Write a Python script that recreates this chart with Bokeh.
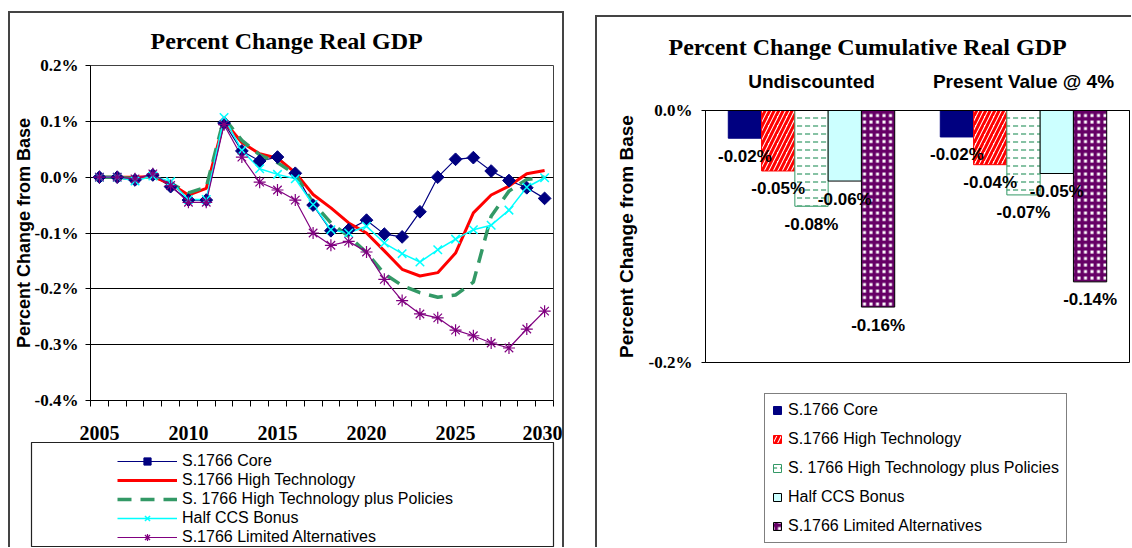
from bokeh.plotting import figure
from bokeh.models import (Range1d, FixedTicker, PrintfTickFormatter, Legend, LegendItem,
                          ColumnDataSource, FactorRange, Title, Spacer)
from bokeh.transform import dodge
from bokeh.layouts import row, column
from bokeh.embed import file_html
from bokeh.resources import INLINE
from bokeh.core.properties import value

# ---------------- data: left chart (percent change real GDP) ----------------
years = list(range(2005, 2031))
label_years = [2005, 2010, 2015, 2020, 2025, 2030]
y_ticks_left = [-0.4, -0.3, -0.2, -0.1, 0.0, 0.1, 0.2]

core = [0.0, 0.0, -0.005, 0.004, -0.017, -0.041, -0.041, 0.097, 0.047, 0.029, 0.036, 0.007,
        -0.050, -0.096, -0.094, -0.077, -0.102, -0.107, -0.062, 0.000, 0.032, 0.035, 0.011,
        -0.006, -0.019, -0.038]
high_tech = [0.0, 0.0, 0.0, 0.001, -0.012, -0.032, -0.020, 0.100, 0.062, 0.042, 0.034, 0.008,
             -0.031, -0.055, -0.082, -0.100, -0.132, -0.165, -0.177, -0.171, -0.136, -0.064,
             -0.032, -0.016, 0.006, 0.012]
policies = [0.0, 0.0, -0.003, 0.002, -0.011, -0.028, -0.018, 0.106, 0.066, 0.040, 0.026, 0.005,
            -0.046, -0.082, -0.106, -0.135, -0.173, -0.194, -0.207, -0.215, -0.211, -0.188,
            -0.070, -0.025, -0.004, 0.000]
half_ccs = [0.0, 0.0, -0.007, 0.002, -0.008, -0.040, -0.040, 0.107, 0.048, 0.015, 0.005, -0.003,
            -0.049, -0.094, -0.100, -0.088, -0.118, -0.137, -0.152, -0.130, -0.111, -0.094,
            -0.086, -0.059, -0.018, -0.001]
limited = [0.0, 0.0, -0.003, 0.006, -0.015, -0.045, -0.045, 0.094, 0.036, -0.009, -0.023, -0.041,
           -0.100, -0.122, -0.115, -0.134, -0.183, -0.221, -0.245, -0.252, -0.274, -0.284,
           -0.297, -0.306, -0.272, -0.240]

series_names = ["S.1766 Core", "S.1766 High Technology", "S. 1766 High Technology plus Policies",
                "Half CCS Bonus", "S.1766 Limited Alternatives"]

# ---------------- data: right chart (cumulative) ----------------
bar_groups = ["Undiscounted", "Present Value @ 4%"]
bar_core = [-0.022, -0.021]
bar_high = [-0.048, -0.043]
bar_pol = [-0.076, -0.067]
bar_ccs = [-0.056, -0.050]
bar_lim = [-0.156, -0.136]
y_ticks_right = [-0.2, 0.0]

SERIF = "Liberation Serif"
SANS = "Liberation Sans"
BORDER = "2px solid #444444"

# ======================= LEFT CHART =======================
p1 = figure(width=552, height=429, output_backend="svg", toolbar_location=None,
            x_range=Range1d(2004.5, 2030.5), y_range=Range1d(-0.4, 0.2),
            min_border_left=77, min_border_right=9, min_border_top=52, min_border_bottom=42)
p1.frame_align = False
p1.title = Title(text="Percent Change Real GDP", align="left", offset=60, standoff=23,
                 text_font=SERIF, text_font_style="bold", text_font_size="24px",
                 text_color="black")
p1.background_fill_color = "white"
p1.border_fill_color = "white"
p1.outline_line_color = "#404040"
p1.xgrid.visible = False
p1.ygrid.ticker = FixedTicker(ticks=y_ticks_left)
p1.ygrid.grid_line_color = "black"
p1.ygrid.grid_line_width = 1

xa = p1.xaxis[0]
xa.ticker = FixedTicker(ticks=label_years, minor_ticks=[y - 0.5 for y in years] + [years[-1] + 0.5])
xa.major_tick_out = 0
xa.major_tick_in = 0
xa.minor_tick_out = 6
xa.minor_tick_in = 0
xa.minor_tick_line_color = "black"
xa.axis_line_color = "black"
xa.major_label_text_font = SERIF
xa.major_label_text_font_style = "bold"
xa.major_label_text_font_size = "20px"
xa.major_label_text_color = "black"
xa.major_label_standoff = 19

ya = p1.yaxis[0]
ya.ticker = FixedTicker(ticks=y_ticks_left)
ya.formatter = PrintfTickFormatter(format="%.1f%%")
ya.major_tick_out = 5
ya.major_tick_in = 0
ya.minor_tick_out = 0
ya.minor_tick_in = 0
ya.major_tick_line_color = "black"
ya.axis_line_color = "black"
ya.major_label_text_font = SERIF
ya.major_label_text_font_style = "bold"
ya.major_label_text_font_size = "17px"
ya.major_label_text_color = "black"
ya.major_label_standoff = 7
ya.axis_label = "Percent Change from Base"
ya.axis_label_text_font = SANS
ya.axis_label_text_font_style = "bold"
ya.axis_label_text_font_size = "18px"
ya.axis_label_text_color = "black"
ya.axis_label_standoff = -2

src1 = ColumnDataSource(dict(year=years, core=core, high=high_tech, pol=policies,
                             ccs=half_ccs, lim=limited))

line_styles = [
    ("core", dict(line_color="#000080", line_width=1.2)),
    ("high", dict(line_color="#FF0000", line_width=3)),
    ("pol", dict(line_color="#339966", line_width=3.5, line_dash="14 9")),
    ("ccs", dict(line_color="#00FFFF", line_width=1.5)),
    ("lim", dict(line_color="#800080", line_width=1.2)),
]
marker_styles = {
    "core": dict(marker="square", angle=0.785398, size=9, fill_color="#000080",
                 line_color="#000080"),
    "ccs": dict(marker="x", size=12, line_color="#00FFFF", line_width=1.5),
    "lim": dict(marker="asterisk", size=12, line_color="#800080", line_width=1.2),
}


def draw_series(fig):
    lines = {}
    marks = {}
    for key, st in line_styles:
        lines[key] = fig.line("year", key, source=src1, **st)
    for key, st in marker_styles.items():
        marks[key] = fig.scatter("year", key, source=src1, **st)
    return lines, marks


draw_series(p1)

# legend panel (small figure whose frame is the legend box; its series lie outside its range)
p1_leg = figure(width=552, height=105, output_backend="svg", toolbar_location=None,
                x_range=p1.x_range, y_range=Range1d(5, 6),
                x_axis_location=None, y_axis_location=None,
                min_border_left=21, min_border_right=9, min_border_top=0, min_border_bottom=0)
p1_leg.frame_align = False
p1_leg.grid.visible = False
p1_leg.background_fill_color = "white"
p1_leg.border_fill_color = "white"
p1_leg.outline_line_color = "#222222"
p1_leg.outline_line_width = 1.2
lg_lines, lg_marks = draw_series(p1_leg)

leg1 = Legend(items=[
    LegendItem(label=series_names[0], renderers=[lg_lines["core"], lg_marks["core"]]),
    LegendItem(label=series_names[1], renderers=[lg_lines["high"]]),
    LegendItem(label=series_names[2], renderers=[lg_lines["pol"]]),
    LegendItem(label=series_names[3], renderers=[lg_lines["ccs"], lg_marks["ccs"]]),
    LegendItem(label=series_names[4], renderers=[lg_lines["lim"], lg_marks["lim"]]),
], location=(86, 1))
leg1.label_text_font = SANS
leg1.label_text_font_size = "16px"
leg1.label_text_color = "black"
leg1.glyph_width = 60
leg1.glyph_height = 18
leg1.label_height = 18
leg1.spacing = 1
leg1.padding = 0
leg1.margin = 0
leg1.label_standoff = 5
leg1.border_line_alpha = 0
leg1.background_fill_alpha = 0
p1_leg.add_layout(leg1)

left_chart = column(p1, p1_leg, spacing=0,
                    styles={"border-top": BORDER, "border-left": BORDER, "border-right": BORDER,
                            "margin-top": "11px", "margin-left": "8px"})

# ======================= RIGHT CHART =======================
p2 = figure(width=534, height=375, output_backend="svg", toolbar_location=None,
            x_range=FactorRange(*bar_groups), y_range=Range1d(-0.2, 0.0),
            x_axis_location="above",
            min_border_left=108, min_border_right=2, min_border_top=93, min_border_bottom=30)
p2.frame_align = False
p2.title = Title(text="Percent Change Cumulative Real GDP", align="left", offset=-37,
                 standoff=16, text_font=SERIF, text_font_style="bold", text_font_size="24px",
                 text_color="black")
p2.background_fill_color = "white"
p2.border_fill_color = "white"
p2.outline_line_color = "black"
p2.xgrid.visible = False
p2.ygrid.visible = False

xa2 = p2.xaxis[0]
xa2.major_tick_out = 0
xa2.major_tick_in = 0
xa2.axis_line_color = "black"
xa2.major_label_text_font = SANS
xa2.major_label_text_font_style = "bold"
xa2.major_label_text_font_size = "19px"
xa2.major_label_text_color = "black"
xa2.major_label_standoff = 19

ya2 = p2.yaxis[0]
ya2.ticker = FixedTicker(ticks=y_ticks_right)
ya2.formatter = PrintfTickFormatter(format="%.1f%%")
ya2.major_tick_out = 4
ya2.major_tick_in = 0
ya2.minor_tick_out = 0
ya2.minor_tick_in = 0
ya2.major_tick_line_color = "black"
ya2.axis_line_color = "black"
ya2.major_label_text_font = SERIF
ya2.major_label_text_font_style = "bold"
ya2.major_label_text_font_size = "17px"
ya2.major_label_text_color = "black"
ya2.major_label_standoff = 9
ya2.axis_label = "Percent Change from Base"
ya2.axis_label_text_font = SANS
ya2.axis_label_text_font_style = "bold"
ya2.axis_label_text_font_size = "19px"
ya2.axis_label_text_color = "black"
ya2.axis_label_standoff = 9

bw = 0.157
bar_series = [
    (bar_core, dict(fill_color="#000080", line_color="#000080")),
    (bar_high, dict(fill_color="white", line_color="#FF0000", hatch_pattern="/",
                    hatch_color="#FF0000", hatch_weight=3, hatch_scale=9)),
    (bar_pol, dict(fill_color="white", line_color="#339966", hatch_pattern='"',
                   hatch_color="#339966", hatch_weight=1.2, hatch_scale=8)),
    (bar_ccs, dict(fill_color="#CCFFFF", line_color="black")),
    (bar_lim, dict(fill_color="white", line_color="black", hatch_pattern="+",
                   hatch_color="#660066", hatch_weight=3.5, hatch_scale=6.5)),
]

# legend figure for the bars (dummy bars lie outside its range)
p2_leg = figure(width=534, height=155, output_backend="svg", toolbar_location=None,
                x_range=p2.x_range, y_range=Range1d(5, 6),
                x_axis_location=None, y_axis_location=None,
                min_border_left=167, min_border_right=20, min_border_top=1, min_border_bottom=0)
p2_leg.frame_align = False
p2_leg.grid.visible = False
p2_leg.background_fill_color = "white"
p2_leg.border_fill_color = "white"
p2_leg.outline_line_color = None

items2 = []
sources2 = []
for i, (vals, style) in enumerate(bar_series):
    off = (i - 2) * bw
    src = ColumnDataSource(dict(cat=bar_groups, val=vals, lab=[f"{v:.2f}%" for v in vals]))
    sources2.append((off, src))
    p2.vbar(x=dodge("cat", off, range=p2.x_range), top=0, bottom="val", width=bw,
            source=src, line_width=1, **style)
    r_leg = p2_leg.vbar(x=dodge("cat", off, range=p2.x_range), top=0, bottom="val", width=bw,
                        source=src, line_width=1, **style)
    items2.append(LegendItem(label=series_names[i], renderers=[r_leg]))

# data labels drawn after all bars so they sit on top
for off, src in sources2:
    p2.text(x=dodge("cat", off, range=p2.x_range), y="val", text="lab", source=src,
            text_align="center", text_baseline="middle", y_offset=18,
            text_font=value(SANS), text_font_style="bold", text_font_size="17px",
            text_color="black")

leg2 = Legend(items=items2, location="top_left")
leg2.label_text_font = SANS
leg2.label_text_font_size = "16px"
leg2.label_text_color = "black"
leg2.glyph_width = 10
leg2.glyph_height = 10
leg2.label_height = 14
leg2.spacing = 11
leg2.padding = 7
leg2.margin = 0
leg2.label_standoff = 6
leg2.border_line_color = "black"
leg2.border_line_width = 1
leg2.background_fill_color = "white"
p2_leg.add_layout(leg2)

right_chart = column(p2, p2_leg, spacing=0,
                     styles={"border-top": BORDER, "border-left": BORDER, "margin-top": "15px"})

layout = row(left_chart, Spacer(width=31, height=10), right_chart, spacing=0)
open("out.html", "w").write(file_html(layout, INLINE))
